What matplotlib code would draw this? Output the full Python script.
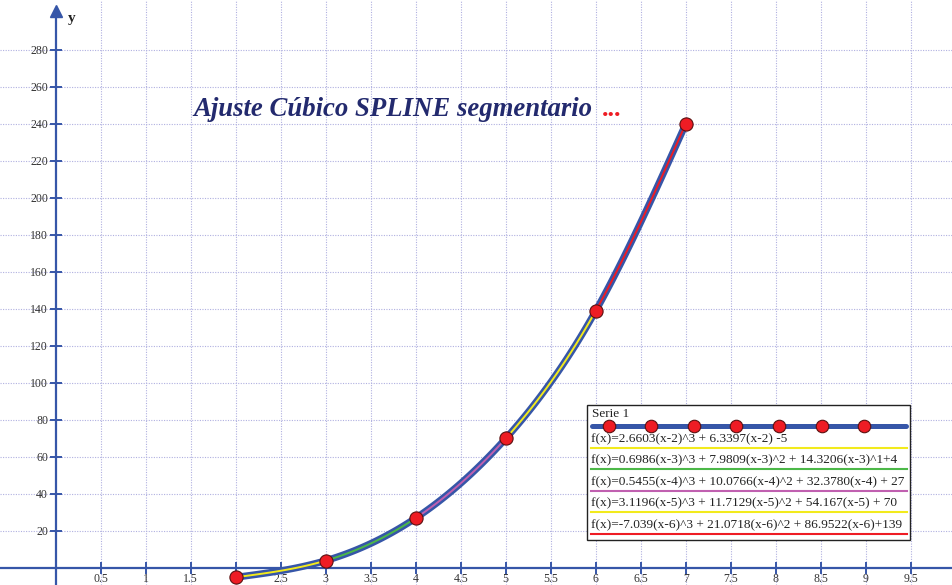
import numpy as np
import matplotlib.pyplot as plt
from matplotlib.lines import Line2D
from matplotlib.patches import Rectangle

plt.rcParams['font.family'] = ['Liberation Serif', 'DejaVu Serif']

# datos
x_nodos = [2, 3, 4, 5, 6, 7]
y_nodos = [-5, 4, 27, 70, 139, 240]
# coeficientes (a, b, c, d) de a(x-xi)^3 + b(x-xi)^2 + c(x-xi) + d
coef = [
    [2.6603, 0.0, 6.3397, -5],
    [0.6986, 7.9809, 14.3206, 4],
    [0.5455, 10.0766, 32.3780, 27],
    [3.1196, 11.7129, 54.167, 70],
    [-7.039, 21.0718, 86.9522, 139],
]
colores_seg = ['#f2ea1c', '#4cb848', '#c060b0', '#f2ea1c', '#ee1c24']
formulas = [
    'f(x)=2.6603(x-2)^3 + 6.3397(x-2) -5',
    'f(x)=0.6986(x-3)^3 + 7.9809(x-3)^2 + 14.3206(x-3)^1+4',
    'f(x)=0.5455(x-4)^3 + 10.0766(x-4)^2 + 32.3780(x-4) + 27',
    'f(x)=3.1196(x-5)^3 + 11.7129(x-5)^2 + 54.167(x-5) + 70',
    'f(x)=-7.039(x-6)^3 + 21.0718(x-6)^2 + 86.9522(x-6)+139',
]
x_ticks = [0.5, 1, 1.5, 2, 2.5, 3, 3.5, 4, 4.5, 5, 5.5, 6, 6.5, 7, 7.5, 8, 8.5, 9, 9.5]
y_ticks = [20, 40, 60, 80, 100, 120, 140, 160, 180, 200, 220, 240, 260, 280]

azul = '#3656a8'
W, H = 953, 585

def fx(px):
    return px / W

def fy(py):
    return 1 - py / H

fig = plt.figure(figsize=(9.53, 5.85), dpi=100)
ax = fig.add_axes([0, 0, 1, 1])
ax.set_xlim(-0.62, 9.97)
ax.set_ylim(-9.2, 307)

# grilla
for xv in x_ticks:
    ax.axvline(xv, color='#b0b0e0', lw=0.8, ls=(0, (1, 1.3)), zorder=0)
for yv in y_ticks:
    ax.axhline(yv, color='#b0b0e0', lw=0.8, ls=(0, (1, 1.3)), zorder=0)

# ejes
for s in ['top', 'right']:
    ax.spines[s].set_visible(False)
ax.spines['left'].set_position(('data', 0))
ax.spines['bottom'].set_position(('data', 0))
ax.spines['left'].set_color(azul)
ax.spines['bottom'].set_color(azul)
ax.spines['left'].set_linewidth(1.6)
ax.spines['bottom'].set_linewidth(1.6)
ax.spines['left'].set_bounds(-10, 300)
ax.set_xticks(x_ticks)
ax.set_xticklabels([f'{v:g}' for v in x_ticks])
ax.set_yticks(y_ticks)
ax.set_yticklabels([str(v) for v in y_ticks])
ax.tick_params(axis='both', direction='inout', length=9, width=1.4, color=azul,
               labelsize=8.5, labelcolor='#333333')
ax.tick_params(axis='x', pad=-1)
ax.tick_params(axis='y', pad=1)
ax.plot([0], [301], marker='^', color=azul, markersize=8, clip_on=False)
ax.text(0.13, 297, 'y', fontsize=11, fontweight='bold', color='#222222', va='center')

# curva spline por segmentos
for i in range(len(coef)):
    xs = np.linspace(x_nodos[i], x_nodos[i + 1], 60)
    ys = np.polyval(coef[i], xs - x_nodos[i])
    ax.plot(xs, ys, color=azul, lw=5, solid_capstyle='round', zorder=3)
for i in range(len(coef)):
    xs = np.linspace(x_nodos[i], x_nodos[i + 1], 60)
    ys = np.polyval(coef[i], xs - x_nodos[i])
    ax.plot(xs, ys, color=colores_seg[i], lw=1.4, zorder=4)
ax.plot(x_nodos, y_nodos, 'o', color='#ee1c24', markeredgecolor='#5a1010',
        markersize=9.5, markeredgewidth=0.8, zorder=5, clip_on=False)

# titulo
fig.text(fx(193), fy(116), 'Ajuste Cúbico SPLINE segmentario',
         fontsize=19.3, fontweight='bold', fontstyle='italic', color='#232a6e', va='baseline')
fig.text(fx(602), fy(116), '...', fontsize=19, fontweight='bold', color='#ee1c24', va='baseline')

# leyenda
fig.patches.append(Rectangle((fx(587), fy(540)), fx(910) - fx(587), fy(405) - fy(540),
                             transform=fig.transFigure, facecolor='white',
                             edgecolor='#222222', lw=1.0, zorder=10))
fig.text(fx(592), fy(414), 'Serie 1', fontsize=9.5, color='#222222', va='center', zorder=11)
fig.add_artist(Line2D([fx(592), fx(906)], [fy(426), fy(426)], color=azul, lw=3.6,
                      solid_capstyle='round', zorder=11))
mk_x = [609, 651, 694, 736, 779, 822, 864]
fig.add_artist(Line2D([fx(p) for p in mk_x], [fy(426)] * len(mk_x), ls='none', marker='o',
                      color='#ee1c24', markeredgecolor='#5a1010', markersize=9,
                      markeredgewidth=0.8, zorder=12))
for i, f in enumerate(formulas):
    yy = 439 + i * 21.5
    fig.text(fx(591), fy(yy), f, fontsize=9.6, color='#222222', va='center', zorder=11)
    fig.add_artist(Line2D([fx(591), fx(907)], [fy(yy + 8.5), fy(yy + 8.5)],
                          color=colores_seg[i], lw=1.5, zorder=11))

fig.savefig('out.png', dpi=100)
